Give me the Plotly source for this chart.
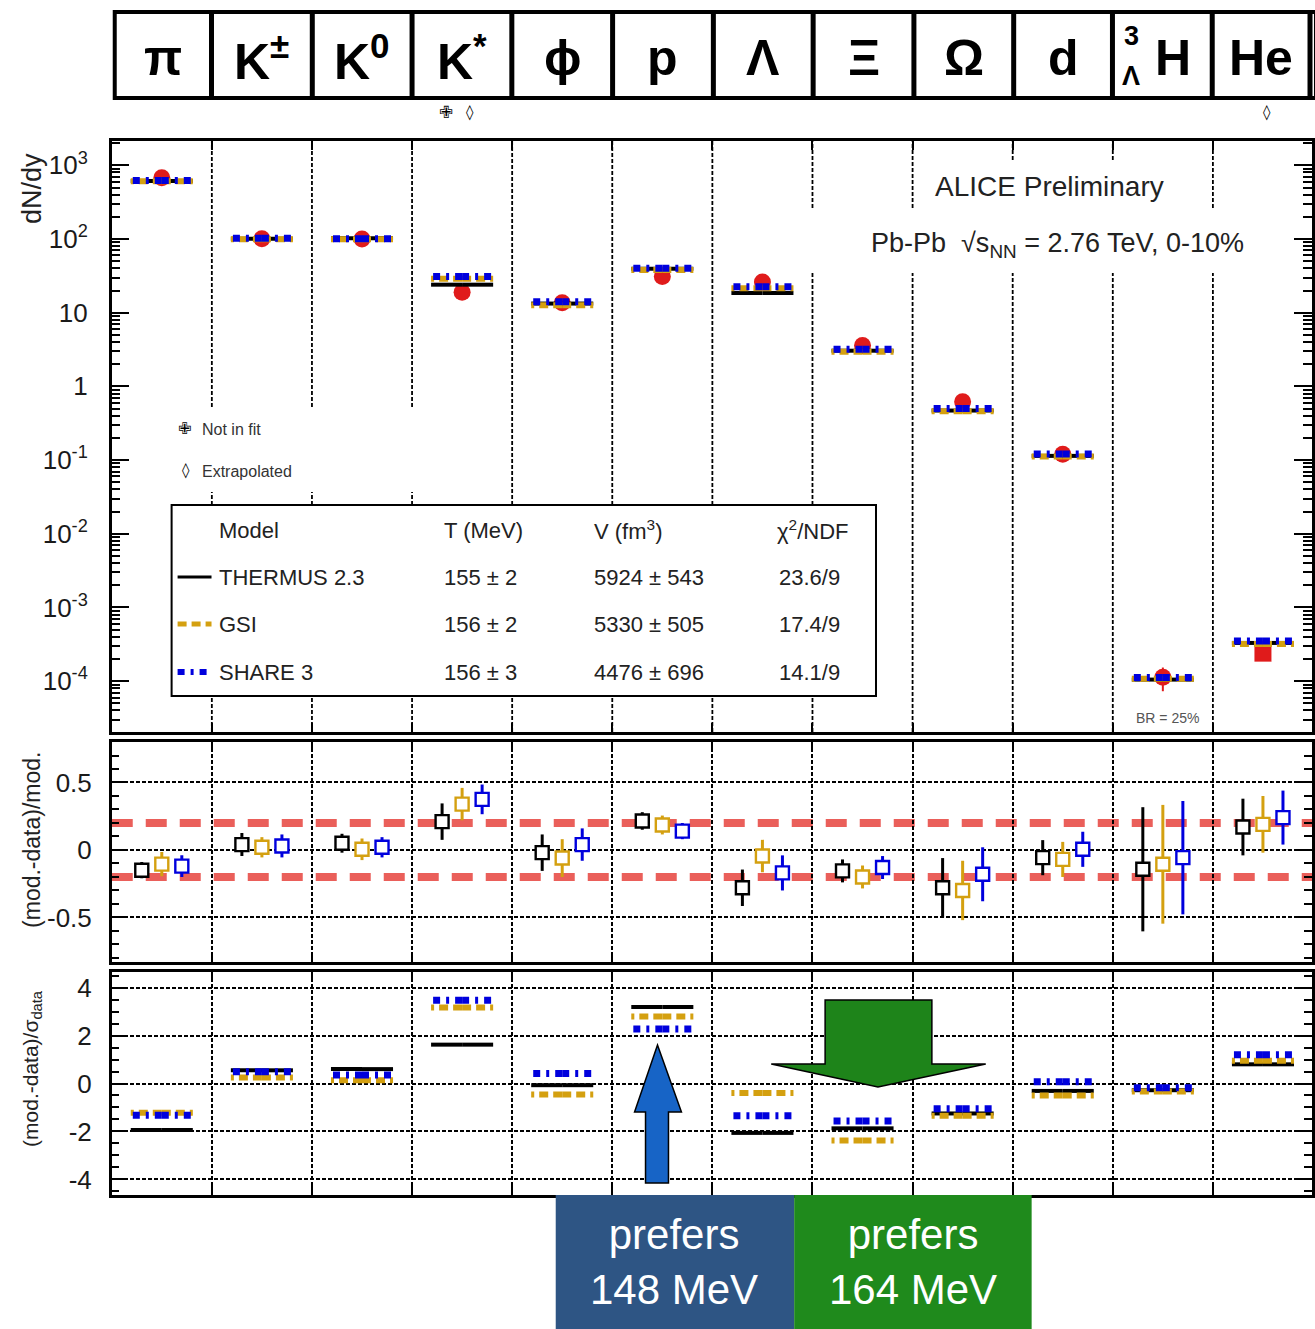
import plotly.graph_objects as go

W, H = 1315, 1329
FONT = "Liberation Sans, Arial, Helvetica, sans-serif"

# ---------------- data ----------------
particles = ["π", "K±", "K0", "K*", "φ", "p", "Λ", "Ξ", "Ω", "d", "3ΛH", "He"]
header_labels = ["π", "K<sup>±</sup>", "K<sup>0</sup>", "K<sup>*</sup>", "ϕ", "p",
                 "Λ", "Ξ", "Ω", "d", "H", "He"]

data_yield = [680, 101, 100, 19, 13.6, 31, 26, 3.6, 0.62, 0.12, 1.13e-4, 2.4e-4]
data_err = [40, 8, 8, 2.5, 1.0, 2.5, 2.5, 0.25, 0.06, 0.015, 0.4e-4, 0.3e-4]

thermus = [615, 101, 102, 24, 13.3, 39.5, 18.5, 3.05, 0.47, 0.114, 1.05e-4, 3.3e-4]
gsi = [610, 99, 99, 29, 12.6, 38, 21.5, 2.95, 0.46, 0.112, 1.08e-4, 3.2e-4]
share = [620, 102, 101, 31, 14.1, 40, 22.5, 3.2, 0.50, 0.121, 1.12e-4, 3.5e-4]

ratio_thermus = [-0.15, 0.04, 0.05, 0.21, -0.02, 0.215, -0.28, -0.155, -0.28, -0.057, -0.143, 0.17]
ratio_thermus_err = [0.06, 0.085, 0.07, 0.135, 0.135, 0.065, 0.135, 0.085, 0.22, 0.13, 0.46, 0.21]
ratio_gsi = [-0.105, 0.02, 0.005, 0.34, -0.06, 0.185, -0.045, -0.2, -0.30, -0.07, -0.106, 0.19]
ratio_gsi_err = [0.09, 0.075, 0.08, 0.12, 0.14, 0.07, 0.12, 0.085, 0.22, 0.13, 0.44, 0.21]
ratio_share = [-0.12, 0.03, 0.02, 0.375, 0.04, 0.14, -0.17, -0.13, -0.18, 0.005, -0.057, 0.24]
ratio_share_err = [0.08, 0.085, 0.075, 0.11, 0.12, 0.06, 0.13, 0.085, 0.2, 0.13, 0.42, 0.2]

sig_thermus = [-1.94, 0.55, 0.6, 1.62, -0.07, 3.19, -2.06, -1.87, -1.25, -0.31, -0.28, 0.8]
sig_gsi = [-1.22, 0.25, 0.14, 3.17, -0.46, 2.79, -0.4, -2.38, -1.35, -0.5, -0.33, 0.95]
sig_share = [-1.32, 0.49, 0.35, 3.47, 0.42, 2.27, -1.35, -1.56, -1.05, 0.07, -0.18, 1.2]

model_names = ["THERMUS 2.3", "GSI", "SHARE 3"]
model_T = ["155 ± 2", "156 ± 2", "156 ± 3"]
model_V = ["5924 ± 543", "5330 ± 505", "4476 ± 696"]
model_chi2 = ["23.6/9", "17.4/9", "14.1/9"]

# ---------------- styles ----------------
BLACK, GOLD, BLUE, RED = "#000000", "#d4a010", "#0000dd", "#e01b1b"
styles = [dict(color=BLACK, width=4, dash="solid"),
          dict(color=GOLD, width=6, dash="9px,5px"),
          dict(color=BLUE, width=7, dash="7px,6px,3px,6px")]

def px(x):
    return x / W

def py(y):
    return 1 - y / H

centers = [i + 0.5 for i in range(len(particles))]

def segments(values, half=0.31):
    xs, ys = [], []
    for c, v in zip(centers, values):
        xs += [c, c - half, None, c, c + half, None]
        ys += [v, v, None, v, v, None]
    return xs, ys

fig = go.Figure()

# main panel: data first, then models on top
fig.add_trace(go.Scatter(
    x=centers, y=data_yield, mode="markers", xaxis="x", yaxis="y",
    marker=dict(symbol=["circle"] * 11 + ["square"], size=17, color=RED),
    error_y=dict(type="data", array=data_err, color=RED, thickness=2, width=0),
    showlegend=False))
for vals, st in zip([thermus, gsi, share], styles):
    xs, ys = segments(vals)
    fig.add_trace(go.Scatter(x=xs, y=ys, mode="lines", xaxis="x", yaxis="y",
                             line=st, showlegend=False))

# middle panel
offsets = [-0.2, 0.0, 0.2]
for vals, errs, st, off in zip([ratio_thermus, ratio_gsi, ratio_share],
                               [ratio_thermus_err, ratio_gsi_err, ratio_share_err],
                               styles, offsets):
    fig.add_trace(go.Scatter(
        x=[c + off for c in centers], y=vals, mode="markers", xaxis="x2", yaxis="y2",
        marker=dict(symbol="square", size=13, color="white",
                    line=dict(color=st["color"], width=2.4)),
        error_y=dict(type="data", array=errs, color=st["color"], thickness=3, width=0),
        showlegend=False))

# bottom panel
for vals, st in zip([sig_thermus, sig_gsi, sig_share], styles):
    xs, ys = segments(vals)
    fig.add_trace(go.Scatter(x=xs, y=ys, mode="lines", xaxis="x3", yaxis="y3",
                             line=st, showlegend=False))

# ---------------- axes ----------------
X0, X1 = 112, 1315
MAIN_T, MAIN_B = 141, 732
xdom = [X0 / W, 1.0]
def xaxis_cfg(anchor, grid=True):
    return dict(domain=xdom, range=[0, 11.99], anchor=anchor,
                tickvals=list(range(1, 12)), showticklabels=False,
                ticks="inside", ticklen=9, tickwidth=2, tickcolor="black",
                showgrid=grid, gridcolor="black", gridwidth=1.6, griddash="4px,2px",
                showline=True, linecolor="black", linewidth=2.5, mirror="ticks",
                zeroline=False)

tickfont = dict(family=FONT, size=26, color="#1a1a1a")
minor_log = [m * 10 ** e for e in range(-5, 4) for m in range(2, 10)]

layout = dict(
    width=W, height=H, margin=dict(l=0, r=0, t=0, b=0),
    paper_bgcolor="white", plot_bgcolor="white",
    xaxis=xaxis_cfg("y", grid=False), xaxis2=xaxis_cfg("y2"), xaxis3=xaxis_cfg("y3"),
    yaxis=dict(type="log", domain=[py(MAIN_B), py(MAIN_T)], range=[-4.69, 3.33], anchor="x",
               tickvals=[1e-4, 1e-3, 1e-2, 1e-1, 1, 10, 100, 1000],
               ticktext=["10<sup>-4</sup>", "10<sup>-3</sup>", "10<sup>-2</sup>",
                         "10<sup>-1</sup>", "1", "10", "10<sup>2</sup>", "10<sup>3</sup>"],
               ticks="inside", ticklen=18, tickwidth=2, tickcolor="black",
               minor=dict(tickvals=minor_log, ticks="inside", ticklen=9, tickwidth=1.5,
                          tickcolor="black", showgrid=False),
               showline=True, linecolor="black", linewidth=2.5, mirror="ticks",
               showgrid=False, zeroline=False, tickfont=tickfont, ticklabelstandoff=16),
    yaxis2=dict(domain=[py(962), py(742)], range=[-0.83, 0.8], anchor="x2",
                tickvals=[-0.5, 0, 0.5], ticktext=["-0.5", "0", "0.5"],
                ticks="inside", ticklen=15, tickwidth=2, tickcolor="black",
                minor=dict(dtick=0.1, tick0=0, ticks="inside", ticklen=8, tickwidth=1.5,
                           tickcolor="black", showgrid=False),
                showline=True, linecolor="black", linewidth=2.5, mirror="ticks",
                showgrid=True, gridcolor="black", gridwidth=1.6, griddash="4px,2px",
                zeroline=False, tickfont=tickfont, ticklabelstandoff=12),
    yaxis3=dict(domain=[py(1195), py(972)], range=[-4.65, 4.65], anchor="x3",
                tickvals=[-4, -2, 0, 2, 4], ticktext=["-4", "-2", "0", "2", "4"],
                ticks="inside", ticklen=15, tickwidth=2, tickcolor="black",
                minor=dict(dtick=0.5, tick0=0, ticks="inside", ticklen=8, tickwidth=1.5,
                           tickcolor="black", showgrid=False),
                showline=True, linecolor="black", linewidth=2.5, mirror="ticks",
                showgrid=True, gridcolor="black", gridwidth=1.6, griddash="4px,2px",
                zeroline=False, tickfont=tickfont, ticklabelstandoff=12),
)
fig.update_layout(**layout)

shapes = []
ann = []

def rect(x0, y0, x1, y1, fill="white", lw=0, lc="black", layer="above"):
    shapes.append(dict(type="rect", xref="paper", yref="paper",
                       x0=px(x0), x1=px(x1), y0=py(y1), y1=py(y0),
                       fillcolor=fill, line=dict(width=lw, color=lc), layer=layer))

def vline(xpix, y0, y1):
    shapes.append(dict(type="line", xref="paper", yref="paper",
                       x0=px(xpix), x1=px(xpix), y0=py(y1), y1=py(y0),
                       line=dict(color="black", width=1.8, dash="4px,2px"),
                       layer="below"))

def text(x, y, s, size=22, color="#222222", xanchor="center", bold=False, angle=0,
         family=FONT, yanchor="middle"):
    ann.append(dict(x=px(x), y=py(y), xref="paper", yref="paper", text=s,
                    showarrow=False, xanchor=xanchor, yanchor=yanchor, textangle=angle,
                    font=dict(family=family, size=size, color=color,
                              weight="bold" if bold else "normal")))

# main-panel column dividers (interrupted behind the texts and the table)
col_w = (X1 - X0) / 11.99
gaps = {1: [(407, 492), (505, 696)], 2: [(407, 492), (505, 696)], 3: [(407, 492), (505, 696)],
        4: [(505, 696)], 5: [(505, 696)], 6: [(505, 696)], 7: [(208, 273), (505, 696)],
        8: [(208, 273)], 9: [(160, 273)], 10: [(160, 273)], 11: [(208, 273)]}
for b in range(1, 12):
    xb = X0 + b * col_w
    ystart = MAIN_T
    for g0, g1 in gaps[b]:
        vline(xb, ystart, g0)
        ystart = g1
    vline(xb, ystart, MAIN_B)

# legend table box
rect(172, 505, 878, 696, fill="rgba(0,0,0,0)", lw=2, layer="above")

# legend sample lines
for yy, st in zip([577, 624, 672], styles):
    shapes.append(dict(type="line", xref="paper", yref="paper",
                       x0=px(178), x1=px(212), y0=py(yy), y1=py(yy),
                       line=dict(color=st["color"], width=st["width"] - 1, dash=st["dash"]),
                       layer="above"))

# red +-20% dashed lines in the ratio panel
for v in [0.2, -0.2]:
    shapes.append(dict(type="line", xref="paper", yref="y2", x0=px(X0), x1=1.0,
                       y0=v, y1=v, line=dict(color="#ea5f5a", width=8, dash="21px,13px"),
                       layer="below"))

# header boxes
bounds = [115, 212, 313, 413, 513, 614, 715, 815, 916, 1016, 1115, 1215, 1313]
shapes.append(dict(type="rect", xref="paper", yref="paper", x0=px(115), x1=px(1319),
                   y0=py(98), y1=py(12), line=dict(width=4, color="black"),
                   fillcolor="rgba(0,0,0,0)", layer="above"))
for b in bounds[1:]:
    shapes.append(dict(type="line", xref="paper", yref="paper", x0=px(b), x1=px(b),
                       y0=py(98), y1=py(12), line=dict(width=5, color="black"),
                       layer="above"))
for i, lab in enumerate(header_labels):
    cx = (bounds[i] + bounds[i + 1]) / 2
    if lab == "H":
        text(1176, 58, "H", size=50, color="#000", bold=True)
        text(1134, 36, "3", size=27, color="#000", bold=True)
        text(1134, 76, "Λ", size=27, color="#000", bold=True)
    else:
        text(cx, 58, lab, size=50, color="#000", bold=True)

# symbols under the header
text(447, 112, "✙", size=17, color="#000", family="DejaVu Sans")
text(471, 112, "◊", size=15, color="#000", family="DejaVu Sans")
text(1270, 112, "◊", size=15, color="#000", family="DejaVu Sans")

# main-panel texts
text(1052, 186, "ALICE Preliminary", size=28)
text(1060, 245, "Pb-Pb  √s<sub>NN</sub> = 2.76 TeV, 0-10%", size=27)
text(185, 428, "✙", size=16, color="#000", family="DejaVu Sans")
text(200, 429, "Not in fit", size=16, color="#333", xanchor="left")
text(186, 470, "◊", size=15, color="#000", family="DejaVu Sans")
text(200, 471, "Extrapolated", size=16, color="#333", xanchor="left")
text(1170, 718, "BR = 25%", size=14, color="#555")

# legend table texts
text(217, 530, "Model", size=22, xanchor="left")
text(443, 530, "T (MeV)", size=22, xanchor="left")
text(593, 530, "V (fm<sup>3</sup>)", size=22, xanchor="left")
text(777, 530, "χ<sup>2</sup>/NDF", size=22, xanchor="left")
for yy, n, t, v, c in zip([577, 624, 672], model_names, model_T, model_V, model_chi2):
    text(217, yy, n, size=22, xanchor="left")
    text(443, yy, t, size=22, xanchor="left")
    text(593, yy, v, size=22, xanchor="left")
    text(779, yy, c, size=22, xanchor="left")

# axis titles
text(32, 188, "dN/dy", size=27, angle=-90)
text(32, 840, "(mod.-data)/mod.", size=23, angle=-90)
text(32, 1068, "(mod.-data)/σ<sub>data</sub>", size=21, angle=-90)

# arrows
def path(points):
    return "M " + " L ".join(f"{px(x):.5f},{py(y):.5f}" for x, y in points) + " Z"

shapes.append(dict(type="path", xref="paper", yref="paper",
                   path=path([(647, 1183), (647, 1112), (636, 1112), (659, 1045),
                              (683, 1112), (670, 1112), (670, 1183)]),
                   fillcolor="#1764c6", line=dict(color="black", width=1.5), layer="above"))
shapes.append(dict(type="path", xref="paper", yref="paper",
                   path=path([(827, 1000), (934, 1000), (934, 1064), (988, 1064),
                              (880, 1087), (773, 1064), (827, 1064)]),
                   fillcolor="#1e841a", line=dict(color="black", width=1.5), layer="above"))

# bottom labels
rect(557, 1195, 796, 1329, fill="#2e5584")
rect(796, 1195, 1034, 1329, fill="#1f8a1c")
text(676, 1262, "prefers<br>148 MeV", size=42, color="white")
text(915, 1262, "prefers<br>164 MeV", size=42, color="white")

fig.update_layout(shapes=shapes, annotations=ann)
fig.write_html("out.html", config={"displayModeBar": False},
               post_script="document.body.style.margin='0';document.body.style.overflow='hidden';")
